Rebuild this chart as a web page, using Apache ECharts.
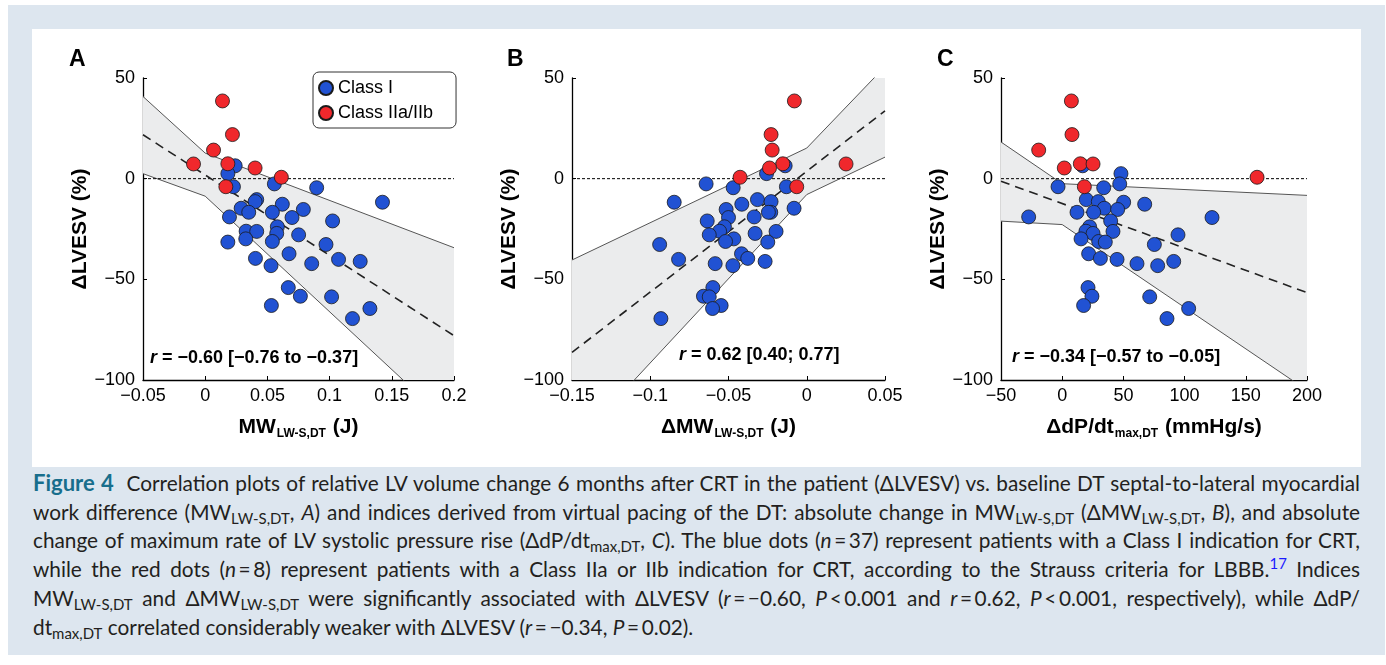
<!DOCTYPE html>
<html>
  <head>
    <meta charset="utf-8" />
    <title>Figure 4</title>
    <script src="https://cdn.jsdelivr.net/npm/echarts@6.0.0/dist/echarts.min.js"></script>
    <style>
      body { margin: 0; background: #fff; }
      #frame { position: absolute; left: 8px; top: 5px; width: 1377px; height: 650px; background: #dde6ef; }
      #main { position: absolute; left: 32px; top: 29px; width: 1329px; height: 438px; background: #fff; }
      #caption {
        position: absolute; left: 33px; top: 469px; width: 1327px;
        font-family: Lato, "Open Sans", sans-serif; font-size: 20.8px; line-height: 28.7px; color: #231f20;
      }
      #caption div { text-align: justify; text-align-last: justify; white-space: nowrap; }
      #caption div.last { text-align-last: left; }
      #caption sub { font-size: 0.72em; line-height: 0; vertical-align: -0.25em; }
      #caption sup { font-size: 0.72em; line-height: 0; color: #1a1aff; }
      #caption b { color: #186e8c; font-size: 22px; }
    </style>
  </head>
  <body>
    <div id="frame"></div>
    <div id="main"></div>
    <div id="caption">
      <div><b>Figure 4</b>&nbsp; Correlation plots of relative LV volume change 6 months after CRT in the patient (ΔLVESV) vs. baseline DT septal-to-lateral myocardial</div>
      <div>work difference (MW<sub>LW-S,DT</sub>, <i>A</i>) and indices derived from virtual pacing of the DT: absolute change in MW<sub>LW-S,DT</sub> (ΔMW<sub>LW-S,DT</sub>, <i>B</i>), and absolute</div>
      <div>change of maximum rate of LV systolic pressure rise (ΔdP/dt<sub>max,DT</sub>, <i>C</i>). The blue dots (<i>n</i>&thinsp;=&thinsp;37) represent patients with a Class I indication for CRT,</div>
      <div>while the red dots (<i>n</i>&thinsp;=&thinsp;8) represent patients with a Class IIa or IIb indication for CRT, according to the Strauss criteria for LBBB.<sup>17</sup> Indices</div>
      <div>MW<sub>LW-S,DT</sub> and ΔMW<sub>LW-S,DT</sub> were significantly associated with ΔLVESV (<i>r</i>&thinsp;=&thinsp;−0.60, <i>P</i>&thinsp;&lt;&thinsp;0.001 and <i>r</i>&thinsp;=&thinsp;0.62, <i>P</i>&thinsp;&lt;&thinsp;0.001, respectively), while ΔdP/</div>
      <div class="last">dt<sub>max,DT</sub> correlated considerably weaker with ΔLVESV (<i>r</i>&thinsp;=&thinsp;−0.34, <i>P</i>&thinsp;=&thinsp;0.02).</div>
    </div>
    <script type="text/javascript">
      // ΔLVESV (%) per patient, same in all three panels
      var blueY = [6.4, 2.5, -2.6, -4.0, -4.5, -10.4, -11.4, -11.7, -12.7, -14.7, -15.3, -16.7, -16.7, -19.0, -19.3, -21.0, -23.9, -26.1, -26.2, -27.2, -27.9, -29.9, -31.2, -31.5, -32.7, -37.3, -39.6, -40.1, -41.1, -42.2, -43.2, -54.1, -58.4, -58.7, -63.0, -64.5, -69.5];
      var redY = [38.6, 21.9, 14.2, 7.4, 7.3, 5.3, 0.7, -4.0];

      // panel A: MW LW-S,DT (J)
      var blueA = [0.0241, 0.0182, 0.0556, 0.0227, 0.0896, 0.0414, 0.0401, 0.1425, 0.062, 0.0289, 0.0789, 0.035, 0.054, 0.0195, 0.0698, 0.1024, 0.058, 0.0329, 0.0414, 0.0575, 0.0751, 0.0326, 0.054, 0.0182, 0.0971, 0.0674, 0.0404, 0.1072, 0.1246, 0.0856, 0.0529, 0.0668, 0.0765, 0.1016, 0.0532, 0.1324, 0.1184];
      var redA = [0.0139, 0.0219, 0.0067, 0.0182, -0.0094, 0.0401, 0.0612, 0.0166];
      // panel B: ΔMW LW-S,DT (J)
      var blueB = [-0.0138, -0.0257, -0.0643, -0.013, -0.047, -0.0315, -0.0228, -0.0847, -0.0415, -0.0081, -0.0515, -0.023, -0.0245, -0.0336, -0.05, -0.0636, -0.0526, -0.0557, -0.0196, -0.033, -0.0623, -0.0466, -0.0519, -0.0249, -0.094, -0.0417, -0.0377, -0.0819, -0.0266, -0.0585, -0.0472, -0.06, -0.066, -0.0623, -0.0547, -0.0602, -0.0932];
      var redB = [-0.0079, -0.0228, -0.0221, -0.0153, 0.0251, -0.0238, -0.0426, -0.0064];
      // panel C: ΔdP/dt max,DT (mmHg/s)
      var blueC = [16.7, 48.0, 47.0, -3.4, 33.9, 19.7, 29.5, 50.2, 67.4, 34.4, 45.3, 12.1, 25.7, -27.4, 122.4, 39.6, 22.4, 19.4, 41.5, 25.2, 94.6, 15.4, 29.8, 35.2, 75.3, 21.6, 31.2, 44.8, 91.1, 61.1, 78.0, 21.1, 24.3, 71.5, 17.5, 103.3, 85.6];
      var redC = [7.5, 8.0, -19.2, 14.8, 25.2, 1.7, 159.2, 18.1];

      // regression line and confidence band
      var fitXA = [-0.05, 0.2], fitYA = [21.8, -78.0];
      var bandXA = [-0.05, 0, 0.2], bandHiA = [40.8, 12.7, -34.3], bandLoA = [2.5, -8.7, -123.5];
      var fitXB = [-0.15, 0.05], fitYB = [-86.3, 33.7];
      var bandXB = [-0.15, 0, 0.05], bandHiB = [-40.4, 15.2, 55.7], bandLoB = [-133.3, -7.9, 10.7];
      var fitXC = [-50, 200], fitYC = [-1.3, -56.6];
      var bandXC = [-50, 0, 200], bandHiC = [18.2, -2.5, -8.3], bandLoC = [-21.1, -22.8, -105.1];

      var xRanges = [[-0.05, 0.2, 0.05], [-0.15, 0.05, 0.05], [-50, 200, 50]];
      var rTexts = ["r = −0.60 [−0.76 to −0.37]", "r = 0.62 [0.40; 0.77]", "r = −0.34 [−0.57 to −0.05]"];
      var panelNames = ["A", "B", "C"];

      var FONT = '"Liberation Sans", Arial, sans-serif';
      var BLUE = "#2152d3", RED = "#f0282c";

      var myChart = echarts.init(document.getElementById("main"));

      function pairs(xs, ys) {
        return xs.map(function (x, i) { return [x, ys[i]]; });
      }
      function fmt(v) {
        return String(+v.toFixed(4)).replace("-", "−");
      }

      var grids = [
        { left: 111, top: 49, width: 311, height: 302 },
        { left: 540, top: 49, width: 313, height: 302 },
        { left: 969, top: 49, width: 306, height: 302 },
      ];
      var xNames = [
        "{m|MW}{s|LW-S,DT}{m| (J)}",
        "{m|ΔMW}{s|LW-S,DT}{m| (J)}",
        "{m|ΔdP/dt}{s|max,DT}{m| (mmHg/s)}",
      ];
      var yNameGaps = [50, 44, 44];

      var xAxes = [], yAxes = [], series = [];
      var bands = [[bandXA, bandLoA, bandHiA], [bandXB, bandLoB, bandHiB], [bandXC, bandLoC, bandHiC]];
      var fits = [[fitXA, fitYA], [fitXB, fitYB], [fitXC, fitYC]];
      var blues = [blueA, blueB, blueC], reds = [redA, redB, redC];

      for (var p = 0; p < 3; p++) {
        xAxes.push({
          gridIndex: p, type: "value",
          min: xRanges[p][0], max: xRanges[p][1], interval: xRanges[p][2],
          axisLine: { onZero: false, lineStyle: { color: "#000", width: 1.3 } },
          axisTick: { inside: true, length: 4, lineStyle: { color: "#000" } },
          axisLabel: { color: "#000", fontSize: 18, fontFamily: FONT, margin: 7, formatter: fmt },
          splitLine: { show: false },
          name: xNames[p], nameLocation: "middle", nameGap: 34,
          nameTextStyle: {
            color: "#000",
            rich: {
              m: { fontSize: 21, fontWeight: "bold", fontFamily: FONT, color: "#000", lineHeight: 24 },
              s: { fontSize: 12, fontWeight: "bold", fontFamily: FONT, color: "#000", padding: [14, 1, 0, 1] },
            },
          },
        });
        yAxes.push({
          gridIndex: p, type: "value", min: -100, max: 50, interval: 50,
          axisLine: { show: true, onZero: false, lineStyle: { color: "#000", width: 1.3 } },
          axisTick: { show: true, inside: true, length: 4, lineStyle: { color: "#000" } },
          axisLabel: { color: "#000", fontSize: 18, fontFamily: FONT, margin: 8, formatter: fmt },
          splitLine: { show: false },
          name: "ΔLVESV (%)", nameLocation: "middle", nameGap: yNameGaps[p],
          nameTextStyle: { color: "#000", fontSize: 21, fontWeight: "bold", fontFamily: FONT },
        });

        (function (band, idx) {
          series.push({
            type: "custom", xAxisIndex: idx, yAxisIndex: idx, clip: true, silent: true, z: 1,
            data: [[band[0][0], band[1][0]]],
            renderItem: function (params, api) {
              var pts = [];
              for (var i = 0; i < band[0].length; i++) pts.push(api.coord([band[0][i], band[2][i]]));
              for (var j = band[0].length - 1; j >= 0; j--) pts.push(api.coord([band[0][j], band[1][j]]));
              return { type: "polygon", shape: { points: pts }, style: { fill: "#ebeced" } };
            },
          });
        })(bands[p], p);

        var edge = { type: "line", xAxisIndex: p, yAxisIndex: p, clip: true, silent: true, symbol: "none", z: 2,
          lineStyle: { color: "#555", width: 1 } };
        series.push(Object.assign({ data: pairs(bands[p][0], bands[p][1]) }, edge));
        series.push(Object.assign({ data: pairs(bands[p][0], bands[p][2]) }, edge));
        series.push({
          type: "line", xAxisIndex: p, yAxisIndex: p, silent: true, symbol: "none", z: 3,
          data: [[xRanges[p][0], 0], [xRanges[p][1], 0]],
          lineStyle: { color: "#000", width: 1, type: [3, 2] },
        });
        series.push({
          type: "line", xAxisIndex: p, yAxisIndex: p, silent: true, symbol: "none", z: 3, clip: true,
          data: pairs(fits[p][0], fits[p][1]),
          lineStyle: { color: "#222", width: 1.6, type: [9, 6] },
        });
        series.push({
          name: "Class I", type: "scatter", xAxisIndex: p, yAxisIndex: p, z: 4,
          symbolSize: 14, data: pairs(blues[p], blueY),
          itemStyle: { color: BLUE, borderColor: "#1a1a1a", borderWidth: 0.8, opacity: 1 },
        });
        series.push({
          name: "Class IIa/IIb", type: "scatter", xAxisIndex: p, yAxisIndex: p, z: 5,
          symbolSize: 14, data: pairs(reds[p], redY),
          itemStyle: { color: RED, borderColor: "#1a1a1a", borderWidth: 0.8, opacity: 1 },
        });
      }

      var rPos = [[118, 329], [647, 326], [980, 328]];
      var letterPos = [[37, 31], [475, 31], [905, 31]];
      var graphics = [];
      for (var k = 0; k < 3; k++) {
        graphics.push({
          type: "text", x: letterPos[k][0], y: letterPos[k][1], z: 10,
          style: { text: panelNames[k], fontSize: 23, fontWeight: "bold", fontFamily: FONT, fill: "#000", verticalAlign: "middle" },
        });
        graphics.push({
          type: "text", x: rPos[k][0], y: rPos[k][1], z: 10,
          style: {
            text: "{i|r}{b|" + rTexts[k].slice(1) + "}", verticalAlign: "middle",
            rich: {
              i: { fontSize: 18, fontWeight: "bold", fontStyle: "italic", fontFamily: FONT, fill: "#000" },
              b: { fontSize: 18, fontWeight: "bold", fontFamily: FONT, fill: "#000" },
            },
          },
        });
      }

      option = {
        animation: false,
        grid: grids,
        xAxis: xAxes,
        yAxis: yAxes,
        legend: {
          data: ["Class I", "Class IIa/IIb"],
          orient: "vertical", left: 281, top: 43,
          icon: "circle", itemWidth: 14, itemHeight: 14, itemGap: 7,
          padding: [7, 23, 6, 5],
          borderColor: "#333", borderWidth: 1, borderRadius: 6,
          textStyle: { fontSize: 18, fontFamily: FONT, color: "#000" },
        },
        graphic: graphics,
        series: series,
      };
      myChart.setOption(option);
    </script>
  </body>
</html>
